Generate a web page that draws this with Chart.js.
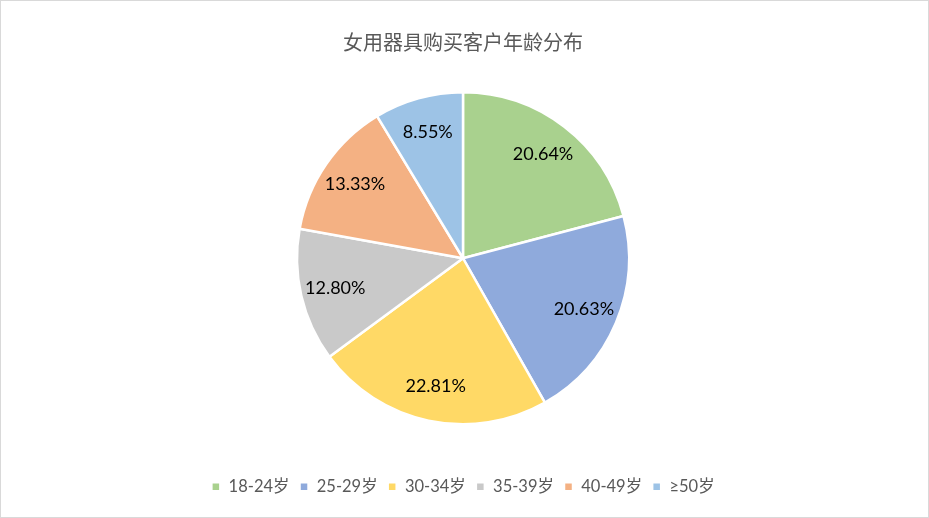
<!DOCTYPE html>
<html>
<head>
<meta charset="utf-8">
<script src="https://cdn.jsdelivr.net/npm/chart.js@4/dist/chart.umd.min.js"></script>
<style>
html,body{margin:0;padding:0;background:#fff;}
#wrap{position:relative;width:927px;height:516px;border:1px solid #d9d9d9;}
canvas{display:block;}
</style>
</head>
<body>
<div id="wrap"><canvas id="c" width="927" height="516"></canvas></div>
<script>
const titleText = '女用器具购买客户年龄分布';
const categories = ['18-24岁', '25-29岁', '30-34岁', '35-39岁', '40-49岁', '≥50岁'];
const values = [20.64, 20.63, 22.81, 12.80, 13.33, 8.55];
const valueLabels = ['20.64%', '20.63%', '22.81%', '12.80%', '13.33%', '8.55%'];
const colors = ['#A9D18E', '#8FAADC', '#FFD966', '#C9C9C9', '#F4B183', '#9DC3E6'];

const labelPlugin = {
  id: 'sliceLabels',
  afterDatasetsDraw(chart) {
    const ctx = chart.ctx;
    const meta = chart.getDatasetMeta(0);
    ctx.save();
    ctx.font = '18px Lato, "Noto Sans CJK SC", sans-serif';
    ctx.fillStyle = '#000000';
    ctx.textAlign = 'center';
    ctx.textBaseline = 'middle';
    meta.data.forEach((arc, i) => {
      const p = arc.getProps(['x', 'y', 'startAngle', 'endAngle', 'outerRadius'], true);
      const mid = (p.startAngle + p.endAngle) / 2;
      const r = p.outerRadius * 0.79;
      ctx.fillText(valueLabels[i], p.x + Math.cos(mid) * r, p.y + Math.sin(mid) * r);
    });
    ctx.restore();
  }
};

new Chart(document.getElementById('c'), {
  type: 'pie',
  data: {
    labels: categories,
    datasets: [{
      data: values,
      backgroundColor: colors,
      borderColor: '#ffffff',
      borderWidth: 2.5
    }]
  },
  options: {
    responsive: false,
    animation: false,
    layout: { padding: { left: 0, right: 3, top: 0, bottom: 12 } },
    plugins: {
      title: {
        display: true,
        text: titleText,
        color: '#595959',
        font: { family: '"Noto Sans CJK SC", sans-serif', size: 20, weight: 'normal' },
        padding: { top: 29, bottom: 37 }
      },
      legend: {
        position: 'bottom',
        title: {
          display: true,
          text: ' ',
          font: { size: 10 },
          padding: { top: 31, bottom: 0, left: 0, right: 0 }
        },
        labels: {
          boxWidth: 9,
          boxHeight: 9,
          padding: 10,
          color: '#595959',
          font: { family: 'Lato, "Noto Sans CJK SC", sans-serif', size: 16.5 }
        }
      },
      tooltip: { enabled: false }
    }
  },
  plugins: [labelPlugin]
});
</script>
</body>
</html>
